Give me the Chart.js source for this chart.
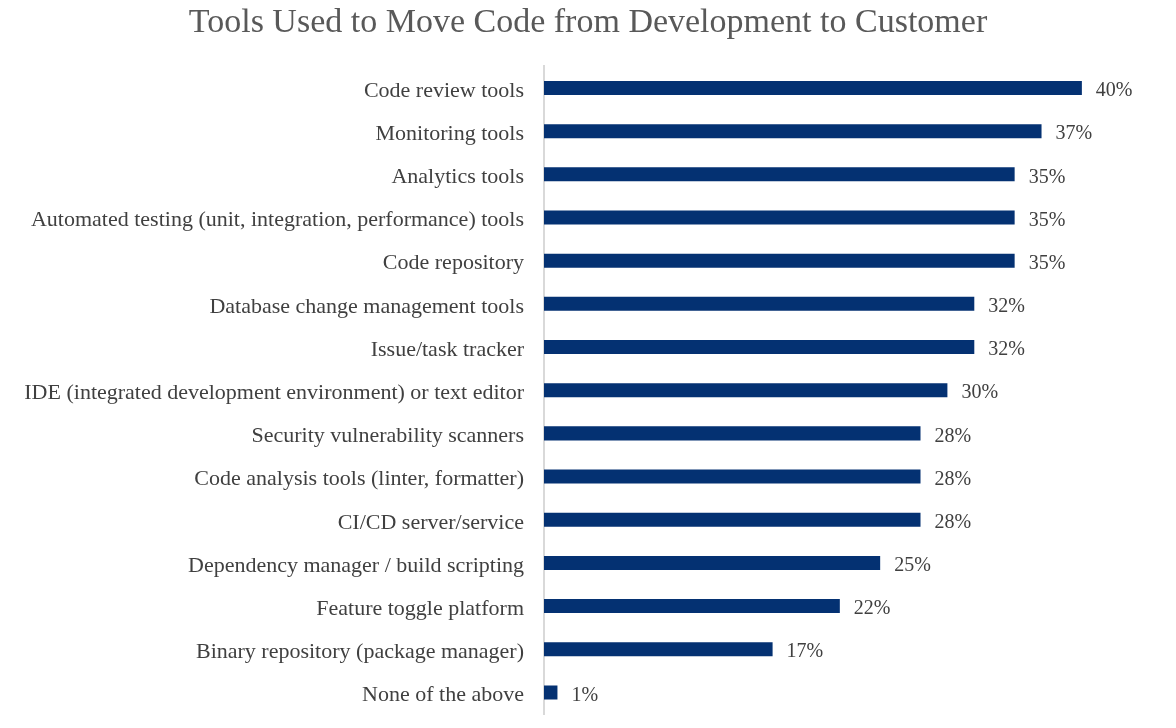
<!DOCTYPE html>
<html>
<head>
<meta charset="utf-8">
<script src="https://cdn.jsdelivr.net/npm/chart.js@4"></script>
<style>
html,body{margin:0;padding:0;background:#fff;}
#wrap{width:1176px;height:728px;}
</style>
</head>
<body>
<div id="wrap"><canvas id="c"></canvas></div>
<script>
const categories = [
  "Code review tools",
  "Monitoring tools",
  "Analytics tools",
  "Automated testing (unit, integration, performance) tools",
  "Code repository",
  "Database change management tools",
  "Issue/task tracker",
  "IDE (integrated development environment) or text editor",
  "Security vulnerability scanners",
  "Code analysis tools (linter, formatter)",
  "CI/CD server/service",
  "Dependency manager / build scripting",
  "Feature toggle platform",
  "Binary repository (package manager)",
  "None of the above"
];
const values = [40, 37, 35, 35, 35, 32, 32, 30, 28, 28, 28, 25, 22, 17, 1];
const titleText = "Tools Used to Move Code from Development to Customer";

const SERIF = "'Liberation Serif', 'DejaVu Serif', serif";

const valueLabels = {
  id: 'valueLabels',
  afterDatasetsDraw(chart) {
    const ctx = chart.ctx;
    const meta = chart.getDatasetMeta(0);
    ctx.save();
    ctx.font = "20px " + SERIF;
    ctx.fillStyle = "#404040";
    ctx.textAlign = "left";
    ctx.textBaseline = "middle";
    meta.data.forEach((bar, i) => {
      ctx.fillText(values[i] + "%", bar.x + 14, bar.y + 3);
    });
    ctx.restore();
  }
};

new Chart(document.getElementById('c'), {
  type: 'bar',
  data: {
    labels: categories,
    datasets: [{
      data: values,
      backgroundColor: '#043172',
      borderWidth: 0,
      categoryPercentage: 1,
      barPercentage: 0.325
    }]
  },
  options: {
    indexAxis: 'y',
    responsive: true,
    maintainAspectRatio: false,
    animation: false,
    layout: { padding: { left: 0, right: 0, top: 0, bottom: 14 } },
    plugins: {
      legend: { display: false },
      tooltip: { enabled: false },
      title: {
        display: true,
        text: titleText,
        color: '#595959',
        font: { family: SERIF, size: 34, weight: 'normal', lineHeight: 1.2 },
        padding: { top: 3, bottom: 22.6 }
      }
    },
    scales: {
      x: {
        display: false,
        min: 0,
        max: 47
      },
      y: {
        afterFit(scale) {
          scale.width = 544;
          scale.paddingTop = 0;
          scale.paddingBottom = 0;
        },
        grid: { display: false, drawTicks: false },
        border: { display: true, color: '#d9d9d9', width: 2 },
        ticks: {
          color: '#404040',
          padding: 20,
          labelOffset: 3,
          font: { family: SERIF, size: 22 }
        }
      }
    }
  },
  plugins: [valueLabels]
});
</script>
</body>
</html>
